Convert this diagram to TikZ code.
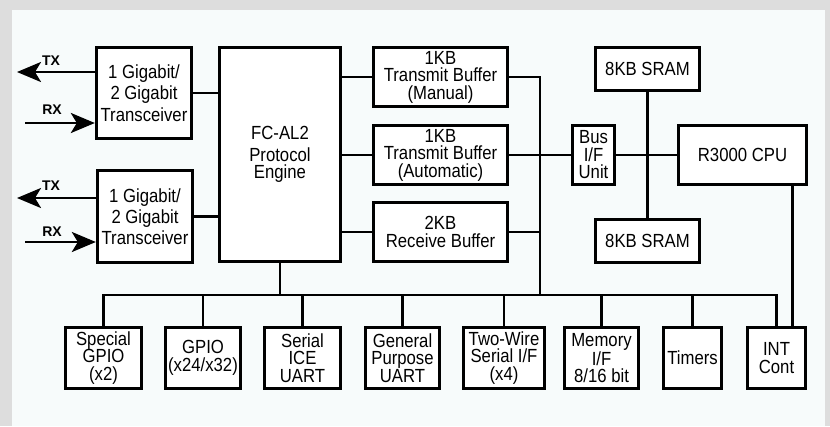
\documentclass[tikz,border=0pt]{standalone}
\usepackage{fontspec}
\setmainfont{Liberation Sans}
\newfontfamily\tallsans[FakeStretch=0.88]{Liberation Sans}
\usetikzlibrary{arrows.meta,positioning,calc}
\definecolor{frmgray}{RGB}{221,221,221}
\definecolor{panel}{RGB}{247,251,251}

\begin{document}
\begin{tikzpicture}[x=1pt,y=-1pt,
    blk/.style={rectangle, draw=black, fill=white, line width=2.8pt, align=center,
                inner sep=1pt, font=\tallsans\fontsize{19}{17.5}\selectfont},
    ln/.style={line width=2.8pt, line join=miter},
    arr/.style={line width=2.8pt, -{Stealth[length=24pt,width=20pt,inset=6pt]}},
    sig/.style={font=\fontsize{14}{14}\selectfont\bfseries}
  ]
    % frame
    \fill[frmgray] (0,0) rectangle (830,426);
    \fill[panel] (12,10) rectangle (825,426);
    \useasboundingbox (0,0) rectangle (830,426);

    % transceivers and protocol engine
    \node[blk, minimum width=95.5pt, minimum height=91.5pt] (trx1) at (144,93)
      {1 Gigabit/\\[2.5pt]2 Gigabit\\[2.5pt]Transceiver};
    \node[blk, minimum width=95.5pt, minimum height=91.5pt] (trx2) at (145,216.5)
      {1 Gigabit/\\[2.5pt]2 Gigabit\\[2.5pt]Transceiver};
    \node[blk, minimum width=121pt, minimum height=214.5pt] (fc) at (280,154.5)
      {FC-AL2\\[4pt]Protocol\\Engine};

    % line signals
    \coordinate (tx1) at (17,72);
    \coordinate (rx1) at (25,123);
    \coordinate (tx2) at (17,198);
    \coordinate (rx2) at (25,242);
    \draw[arr] ([yshift=21pt]trx1.west) -- (tx1);
    \draw[arr] (rx1) -- ([yshift=-30pt]trx1.west);
    \draw[arr] ([yshift=18.5pt]trx2.west) -- (tx2);
    \draw[arr] (rx2) -- ([yshift=-25.5pt]trx2.west);
    \node[sig] (txl1) at (51,61) {TX};
    \node[sig] (rxl1) at (52,110) {RX};
    \node[sig] (txl2) at (51,186) {TX};
    \node[sig] (rxl2) at (52,232) {RX};

    \draw[ln] (trx1.east) -- (trx1.east -| fc.west);
    \draw[ln] (trx2.east) -- (trx2.east -| fc.west);

    % buffers
    \node[blk, minimum width=134.5pt, minimum height=59.5pt] (buf1) at (440.5,77)
      {1KB\\Transmit Buffer\\(Manual)};
    \node[blk, minimum width=134.5pt, minimum height=59.5pt] (buf2) at (440.5,155)
      {1KB\\Transmit Buffer\\(Automatic)};
    \node[blk, minimum width=134.5pt, minimum height=59.5pt] (buf3) at (440.5,232)
      {2KB\\Receive Buffer};
    \foreach \b in {buf1,buf2,buf3}
      \draw[ln] (\b.west) -- (\b.west -| fc.east);

    % cpu side
    \node[blk, minimum width=42.5pt, minimum height=59.5pt] (bif) at (593.5,155)
      {Bus\\I/F\\Unit};
    \node[blk, minimum width=104.5pt, minimum height=43.5pt] (sram1) at (647.5,69)
      {8KB SRAM};
    \node[blk, minimum width=104.5pt, minimum height=43.5pt] (sram2) at (647.5,241)
      {8KB SRAM};
    \node[blk, minimum width=128.5pt, minimum height=59.5pt] (cpu) at (742.5,155)
      {R3000 CPU};
    \draw[ln] (sram1.south) -- (sram2.north);
    \draw[ln] (buf2.east) -- (bif.west);
    \draw[ln] (bif.east) -- (cpu.west);

    % peripherals
    \node[blk, minimum width=76.5pt, minimum height=61.5pt] (sgpio) at (103.5,358)
      {Special\\GPIO\\(x2)};
    \node[blk, minimum width=75.5pt, minimum height=61.5pt] (gpio) at (203,358)
      {GPIO\\(x24/x32)};
    \node[blk, minimum width=76.5pt, minimum height=61.5pt] (ice) at (302.5,358)
      {Serial\\ICE\\UART};
    \node[blk, minimum width=74.5pt, minimum height=61.5pt] (uart) at (402.5,358)
      {General\\Purpose\\UART};
    \node[blk, minimum width=81.5pt, minimum height=61.5pt] (twi) at (504,358)
      {Two-Wire\\Serial I/F\\(x4)};
    \node[blk, minimum width=74.5pt, minimum height=61.5pt] (mem) at (601.5,358)
      {Memory\\I/F\\8/16 bit};
    \node[blk, minimum width=58.5pt, minimum height=61.5pt] (tmr) at (692.5,358)
      {Timers};
    \node[blk, minimum width=58.5pt, minimum height=61.5pt] (intc) at (776.5,358)
      {INT\\Cont};

    % internal bus
    \coordinate (busl) at (103.5,295);
    \coordinate (busx) at (540,295);
    \draw[ln] (sgpio.north) -- (busl) -- (busl -| intc.north) -- (intc.north);
    \foreach \p in {gpio,ice,uart,twi,mem,tmr}
      \draw[ln] (\p.north) -- (\p.north |- busl);
    \draw[ln] (fc.south) -- (fc.south |- busl);
    \draw[ln] (buf1.east) -- (buf1.east -| busx) -- (busx);
    \draw[ln] (buf3.east) -- (buf3.east -| busx);
    \draw[ln] ([xshift=-16pt]cpu.south east) coordinate (irq) -- (irq |- intc.north);
  \end{tikzpicture}
\end{document}
